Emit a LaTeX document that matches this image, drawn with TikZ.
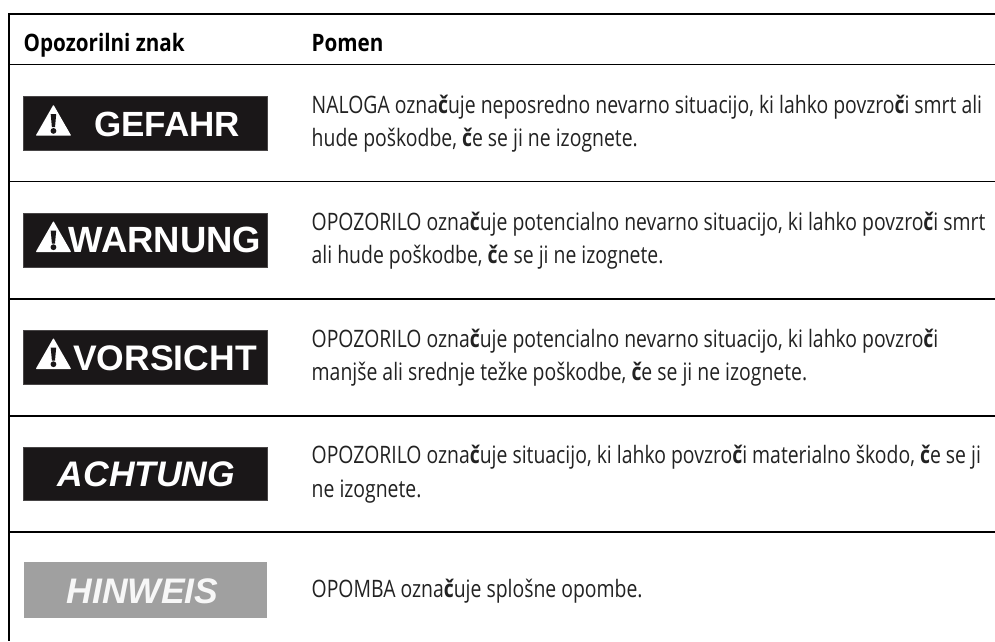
\documentclass[tikz,border=0pt]{standalone}
\usepackage{fontspec}
\setmainfont[FakeStretch=0.808]{Open Sans}
\newfontfamily\headfont[FakeStretch=0.86]{Open Sans}
\newfontfamily\signfont{Liberation Sans}
\definecolor{signblack}{HTML}{1A1718}
\definecolor{signgrey}{HTML}{A0A0A0}
\definecolor{txt}{HTML}{222222}
\newcommand{\cc}{{\bfseries č}}
\tikzset{
  x=1pt,y=-1pt,
  rule/.style={line width=1.9pt,black},
  sign/.style={fill=#1,draw=#1!80!white,line width=0.4pt},
  signtext/.style={anchor=base,inner sep=0,text=white,font=\signfont\bfseries\fontsize{35}{35}\selectfont},
  signital/.style={anchor=base,inner sep=0,text=white,font=\signfont\bfseries\itshape\fontsize{35.5}{35.5}\selectfont},
  body/.style={anchor=base west,inner sep=0,text=txt,font=\fontsize{24}{26}\selectfont},
  head/.style={anchor=base west,inner sep=0,text=black,font=\headfont\bfseries\fontsize{24}{26}\selectfont},
}
\newcommand{\warntri}[2]{% x left, y bottom
  \fill[white,rounded corners=0.8pt] (#1,#2) -- (#1+35.5,#2) -- (#1+17.75,#2-31) -- cycle;
  \fill[signblack] (#1+15,#2-21.5) -- (#1+20.5,#2-21.5) -- (#1+19.3,#2-8.5) -- (#1+16.2,#2-8.5) -- cycle;
  \fill[signblack] (#1+17.75,#2-4.8) circle (2.9);
}
\begin{document}
\begin{tikzpicture}
\useasboundingbox (0,0) rectangle (995,641);
\fill[white] (0,0) rectangle (995,641);
% rules
\coordinate (tl) at (9,14); \coordinate (tr) at (995,14); \coordinate (bl) at (9,641);
\draw[rule] (tr) -- (tl) -- (bl);
\foreach \n/\y in {a/64.5,b/181.5,c/298.7,d/415.7,e/531.7}{
  \coordinate (\n l) at (9,\y); \coordinate (\n r) at (995,\y);
  \draw[rule] (\n l) -- (\n r);
}
% header
\node[head] (h1) at (23.5,51) {Opozorilni znak};
\node[head] (h2) at (311.5,51) {Pomen};
% signs
\draw[sign=signblack] (23.5,96.5) rectangle (267,150.5);
\warntri{35.7}{135.7}
\node[signtext] (s1) at (167,136) {GEFAHR};
\draw[sign=signblack] (23.5,213.5) rectangle (267,267.5);
\warntri{35.7}{252}
\node[signtext,font=\signfont\bfseries\fontsize{36.5}{36.5}\selectfont] (s2) at (165,252) {WARNUNG};
\draw[sign=signblack] (23.5,330.5) rectangle (267,384);
\warntri{35.7}{369}
\node[signtext,font=\signfont\bfseries\fontsize{35.5}{35.5}\selectfont] (s3) at (165,370) {VORSICHT};
\draw[sign=signblack] (23.5,447) rectangle (267,500.5);
\node[signital] (s4) at (146.5,486.5) {ACHTUNG};
\fill[signgrey] (23.5,562) rectangle (267,618);
\node[signital,text=white!92!signgrey] (s5) at (142.5,603) {HINWEIS};
% body
\node[body] at (311.5,113) {NALOGA ozna\cc uje neposredno nevarno situacijo, ki lahko povzro\cc i smrt ali};
\node[body] at (311.5,146.5) {hude poškodbe, \cc e se ji ne izognete.};
\node[body] at (311.5,230) {OPOZORILO ozna\cc uje potencialno nevarno situacijo, ki lahko povzro\cc i smrt};
\node[body] at (311.5,263.5) {ali hude poškodbe, \cc e se ji ne izognete.};
\node[body] at (311.5,347) {OPOZORILO ozna\cc uje potencialno nevarno situacijo, ki lahko povzro\cc i};
\node[body] at (311.5,380.5) {manjše ali srednje težke poškodbe, \cc e se ji ne izognete.};
\node[body] at (311.5,463.5) {OPOZORILO ozna\cc uje situacijo, ki lahko povzro\cc i materialno škodo, \cc e se ji};
\node[body] at (311.5,497) {ne izognete.};
\node[body] at (311.5,597) {OPOMBA ozna\cc uje splošne opombe.};
\end{tikzpicture}
\end{document}
